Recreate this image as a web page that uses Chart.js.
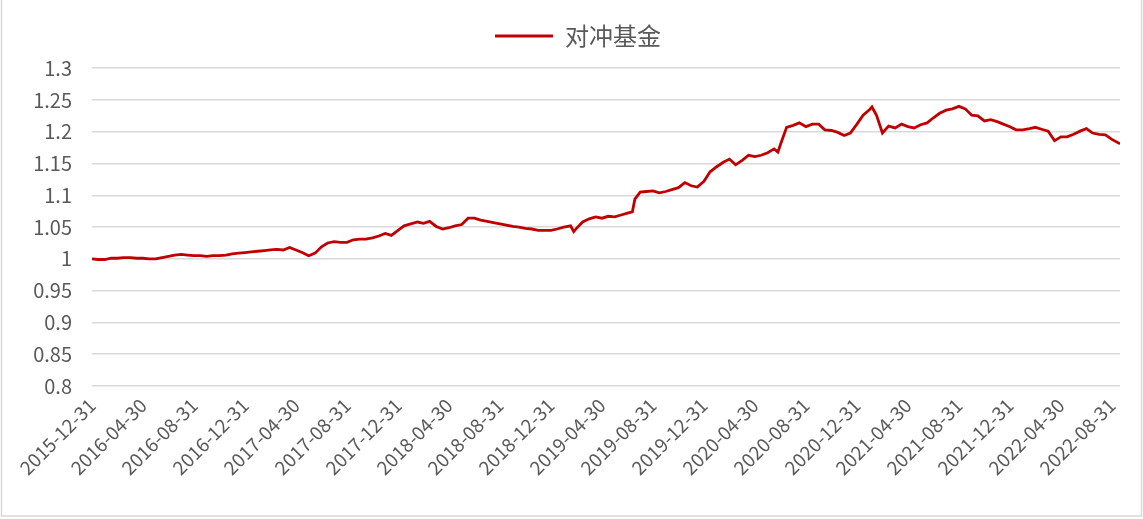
<!DOCTYPE html>
<html>
<head>
<meta charset="utf-8">
<script src="https://cdn.jsdelivr.net/npm/chart.js@4/dist/chart.umd.min.js"></script>
<style>
  html, body { margin: 0; padding: 0; background: #ffffff; }
  #c { display: block; }
</style>
</head>
<body>
<canvas id="c" width="1143" height="519"></canvas>
<script>
const seriesName = '对冲基金';

const dates = [
  '2015-12-31',
  '2016-01-15','2016-01-31','2016-02-15','2016-02-29','2016-03-15','2016-03-31','2016-04-15','2016-04-30',
  '2016-05-15','2016-05-31','2016-06-15','2016-06-30','2016-07-15','2016-07-31','2016-08-15','2016-08-31',
  '2016-09-15','2016-09-30','2016-10-15','2016-10-31','2016-11-15','2016-11-30','2016-12-15','2016-12-31',
  '2017-01-15','2017-01-31','2017-02-15','2017-02-28','2017-03-15','2017-03-31','2017-04-15','2017-04-30',
  '2017-05-15','2017-05-31','2017-06-15','2017-06-30','2017-07-15','2017-07-31','2017-08-15','2017-08-31',
  '2017-09-15','2017-09-30','2017-10-15','2017-10-31','2017-11-15','2017-11-30','2017-12-15','2017-12-31',
  '2018-01-15','2018-01-31','2018-02-15','2018-02-28','2018-03-15','2018-03-31','2018-04-15','2018-04-30',
  '2018-05-15','2018-05-31','2018-06-15','2018-06-30','2018-07-15','2018-07-31','2018-08-15','2018-08-31',
  '2018-09-15','2018-09-30','2018-10-15','2018-10-31','2018-11-15','2018-11-30','2018-12-15','2018-12-31',
  '2019-01-15','2019-01-31','2019-02-15','2019-02-22','2019-02-28','2019-03-15','2019-03-31','2019-04-15','2019-04-30',
  '2019-05-15','2019-05-31','2019-06-15','2019-06-30','2019-07-12','2019-07-18','2019-07-31','2019-08-15','2019-08-31',
  '2019-09-15','2019-09-30','2019-10-15','2019-10-31','2019-11-15','2019-11-30','2019-12-15','2019-12-31',
  '2020-01-15','2020-01-31','2020-02-15','2020-02-29','2020-03-15','2020-03-31','2020-04-15','2020-04-30',
  '2020-05-15','2020-05-31','2020-06-15','2020-06-24','2020-06-30','2020-07-15','2020-07-31','2020-08-15','2020-08-31',
  '2020-09-15','2020-09-30','2020-10-15','2020-10-31','2020-11-15','2020-11-30','2020-12-15','2020-12-31',
  '2021-01-15','2021-01-31','2021-02-05','2021-02-15','2021-02-28','2021-03-15','2021-03-31','2021-04-15','2021-04-30',
  '2021-05-15','2021-05-31','2021-06-15','2021-06-30','2021-07-15','2021-07-31','2021-08-15','2021-08-31',
  '2021-09-15','2021-09-30','2021-10-15','2021-10-31','2021-11-15','2021-11-30','2021-12-15','2021-12-31',
  '2022-01-15','2022-01-31','2022-02-15','2022-02-28','2022-03-15','2022-03-31','2022-04-15','2022-04-30',
  '2022-05-15','2022-05-31','2022-06-15','2022-06-30','2022-07-15','2022-07-31','2022-08-15','2022-08-31',
  '2022-09-19'
];

const navValues = [
  1.000,
  0.999, 0.999, 1.001, 1.001, 1.002, 1.002, 1.001, 1.001,
  1.000, 1.000, 1.002, 1.004, 1.006, 1.007, 1.006, 1.005,
  1.005, 1.004, 1.005, 1.005, 1.006, 1.008, 1.009, 1.010,
  1.011, 1.012, 1.013, 1.014, 1.015, 1.014, 1.018, 1.014,
  1.010, 1.005, 1.009, 1.019, 1.025, 1.027, 1.026, 1.026,
  1.030, 1.031, 1.031, 1.033, 1.036, 1.040, 1.037, 1.045,
  1.052, 1.055, 1.058, 1.056, 1.059, 1.051, 1.047, 1.049,
  1.052, 1.054, 1.064, 1.064, 1.061, 1.059, 1.057, 1.055,
  1.053, 1.051, 1.050, 1.048, 1.047, 1.045, 1.045, 1.045,
  1.047, 1.050, 1.052, 1.043, 1.048, 1.058, 1.063, 1.066, 1.064,
  1.067, 1.066, 1.069, 1.072, 1.074, 1.094, 1.105, 1.106, 1.107,
  1.104, 1.106, 1.109, 1.112, 1.120, 1.115, 1.113, 1.122,
  1.137, 1.145, 1.152, 1.157, 1.148, 1.155, 1.163, 1.161,
  1.163, 1.167, 1.173, 1.168, 1.180, 1.207, 1.210, 1.214, 1.208,
  1.212, 1.212, 1.203, 1.202, 1.199, 1.194, 1.198, 1.212,
  1.226, 1.235, 1.239, 1.226, 1.198, 1.209, 1.206, 1.212, 1.208,
  1.206, 1.211, 1.214, 1.222, 1.229, 1.234, 1.236, 1.240,
  1.236, 1.226, 1.225, 1.217, 1.219, 1.216, 1.212, 1.208,
  1.203, 1.203, 1.205, 1.207, 1.204, 1.201, 1.186, 1.192,
  1.192, 1.196, 1.201, 1.205, 1.198, 1.196, 1.195, 1.188,
  1.181
];

const xTickLabels = [
  '2015-12-31','2016-04-30','2016-08-31','2016-12-31','2017-04-30','2017-08-31','2017-12-31',
  '2018-04-30','2018-08-31','2018-12-31','2019-04-30','2019-08-31','2019-12-31','2020-04-30',
  '2020-08-31','2020-12-31','2021-04-30','2021-08-31','2021-12-31','2022-04-30','2022-08-31'
];

const yTickValues = [0.8, 0.85, 0.9, 0.95, 1, 1.05, 1.1, 1.15, 1.2, 1.25, 1.3];
const yTickLabels = ['0.8', '0.85', '0.9', '0.95', '1', '1.05', '1.1', '1.15', '1.2', '1.25', '1.3'];

// position of a date on the x axis, in months after 2015-12-31
function toMonth(d) {
  const [y, m, dd] = d.split('-').map(Number);
  const dim = new Date(y, m, 0).getDate();
  return (y - 2016) * 12 + (m - 1) + dd / dim;
}

const points = dates.map((d, i) => ({ x: toMonth(d), y: navValues[i] }));

const textColor = '#595959';
const gridColor = '#d9d9d9';
const fontFamily = '"Noto Sans CJK SC", "Liberation Sans", sans-serif';

const frame = {
  id: 'frame',
  afterDraw(chart) {
    const ctx = chart.ctx;
    ctx.save();
    ctx.strokeStyle = '#d9d9d9';
    ctx.lineWidth = 1.5;
    ctx.beginPath();
    ctx.moveTo(1.5, 0);
    ctx.lineTo(1.5, 516);
    ctx.lineTo(1141.5, 516);
    ctx.lineTo(1141.5, 0);
    ctx.stroke();
    ctx.restore();
  }
};

new Chart(document.getElementById('c'), {
  type: 'line',
  data: {
    datasets: [{
      label: seriesName,
      data: points,
      borderColor: '#C00000',
      backgroundColor: '#C00000',
      borderWidth: 2.8,
      pointRadius: 0,
      pointHoverRadius: 0,
      tension: 0,
      fill: false
    }]
  },
  options: {
    responsive: false,
    animation: false,
    layout: { padding: { left: 36, right: 23, top: 14, bottom: 0 } },
    plugins: {
      legend: {
        display: true,
        position: 'top',
        labels: {
          usePointStyle: true,
          pointStyle: 'line',
          pointStyleWidth: 58,
          color: textColor,
          padding: 10,
          font: { family: fontFamily, size: 24 }
        }
      },
      title: {
        display: true,
        text: '',
        position: 'top',
        weight: 500,
        padding: { top: 9, bottom: 0 },
        font: { size: 1 }
      },
      tooltip: { enabled: false }
    },
    scales: {
      x: {
        type: 'linear',
        min: 0,
        max: toMonth(dates[dates.length - 1]),
        afterBuildTicks(scale) {
          scale.ticks = xTickLabels.map(d => ({ value: toMonth(d) }));
        },
        afterFit(scale) { scale.height = 133; },
        grid: { display: false, drawTicks: false },
        border: { display: false },
        ticks: {
          autoSkip: false,
          minRotation: 45,
          maxRotation: 45,
          padding: 8,
          color: textColor,
          font: { family: fontFamily, size: 19 },
          callback: (v, i) => xTickLabels[i]
        }
      },
      y: {
        type: 'linear',
        min: 0.8,
        max: 1.3,
        afterBuildTicks(scale) {
          scale.ticks = yTickValues.map(v => ({ value: v }));
        },
        afterFit(scale) {
          scale.width = 56;
          // let the tick labels extend into the left padding without clipping
          scale._computeLabelArea = () => undefined;
        },
        grid: { color: gridColor, lineWidth: 1.5, drawTicks: false },
        border: { display: false },
        ticks: {
          padding: 20,
          color: textColor,
          font: { family: fontFamily, size: 20 },
          callback: (v, i) => yTickLabels[i]
        }
      }
    }
  },
  plugins: [frame]
});
</script>
</body>
</html>
